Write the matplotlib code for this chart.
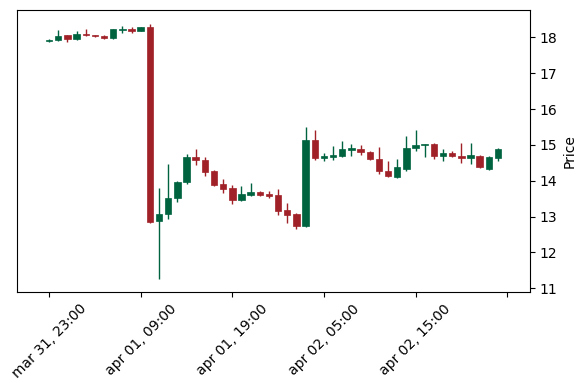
import numpy as np
import matplotlib
matplotlib.use("Agg")
import matplotlib.pyplot as plt

# hourly candles, mar 31 23:00 -> apr 02 22:00
opens = [17.90, 17.92, 18.07, 17.95, 18.10, 18.07, 18.05, 17.98, 18.20, 18.23,
         18.19, 18.28, 12.88, 13.07, 13.53, 13.95, 14.67, 14.58, 14.27, 13.91,
         13.80, 13.47, 13.60, 13.69, 13.64, 13.60, 13.18, 13.07, 12.74, 15.14,
         14.63, 14.65, 14.68, 14.86, 14.89, 14.81, 14.61, 14.27, 14.11, 14.34,
         14.91, 15.00, 15.03, 14.69, 14.76, 14.70, 14.64, 14.70, 14.33, 14.62]
highs = [17.96, 18.20, 18.08, 18.17, 18.24, 18.08, 18.06, 18.23, 18.31, 18.29,
         18.29, 18.38, 13.80, 14.46, 14.00, 14.74, 14.88, 14.65, 14.29, 14.04,
         13.87, 13.85, 13.93, 13.71, 13.71, 13.76, 13.37, 13.09, 15.50, 15.41,
         14.78, 14.97, 15.11, 15.02, 14.99, 14.83, 14.95, 14.55, 14.60, 15.25,
         15.41, 15.03, 15.05, 14.88, 14.84, 15.05, 15.05, 14.71, 14.70, 14.91]
lows = [17.86, 17.91, 17.87, 17.94, 18.05, 18.02, 17.96, 17.95, 18.13, 18.13,
        18.17, 12.82, 11.25, 12.92, 13.40, 13.90, 14.44, 14.13, 13.86, 13.65,
        13.36, 13.42, 13.56, 13.56, 13.51, 13.03, 12.83, 12.64, 12.72, 14.58,
        14.55, 14.57, 14.66, 14.70, 14.72, 14.57, 14.20, 14.10, 14.07, 14.27,
        14.83, 14.67, 14.60, 14.55, 14.67, 14.49, 14.46, 14.35, 14.31, 14.55]
closes = [17.93, 18.05, 17.95, 18.10, 18.06, 18.04, 17.98, 18.22, 18.23, 18.19,
          18.28, 12.85, 13.08, 13.52, 13.97, 14.67, 14.57, 14.25, 13.89, 13.78,
          13.46, 13.63, 13.68, 13.61, 13.58, 13.15, 13.04, 12.73, 15.14, 14.62,
          14.68, 14.71, 14.89, 14.90, 14.79, 14.60, 14.27, 14.12, 14.37, 14.92,
          15.00, 15.02, 14.68, 14.76, 14.69, 14.62, 14.71, 14.37, 14.65, 14.89]

tick_pos = [0, 10, 20, 30, 40, 50]
tick_labels = ["mar 31, 23:00", "apr 01, 09:00", "apr 01, 19:00",
               "apr 02, 05:00", "apr 02, 15:00", ""]

UP = "#006340"
DOWN = "#A02128"

fig = plt.figure(figsize=(5.87, 3.90), dpi=100)
ax = fig.add_axes([0.029, 0.251, 0.874, 0.723])

o = np.array(opens)
h = np.array(highs)
l = np.array(lows)
c = np.array(closes)
x = np.arange(len(o))
cols = [UP if cc >= oo else DOWN for oo, cc in zip(o, c)]

# wicks then bodies
ax.vlines(x, l, h, colors=cols, linewidth=1.0, zorder=2)
bottoms = np.minimum(o, c)
heights = np.maximum(np.abs(c - o), 0.02)
ax.bar(x, heights, bottom=bottoms, width=0.7, color=cols, edgecolor=cols,
       linewidth=0.5, zorder=3)

ax.set_xlim(-3.5, 52.5)
ax.set_ylim(10.89, 18.76)
ax.set_xticks(tick_pos)
ax.set_xticklabels(tick_labels, rotation=45)
ax.yaxis.tick_right()
ax.yaxis.set_label_position("right")
ax.set_ylabel("Price")

fig.savefig("out.png", dpi=100)
